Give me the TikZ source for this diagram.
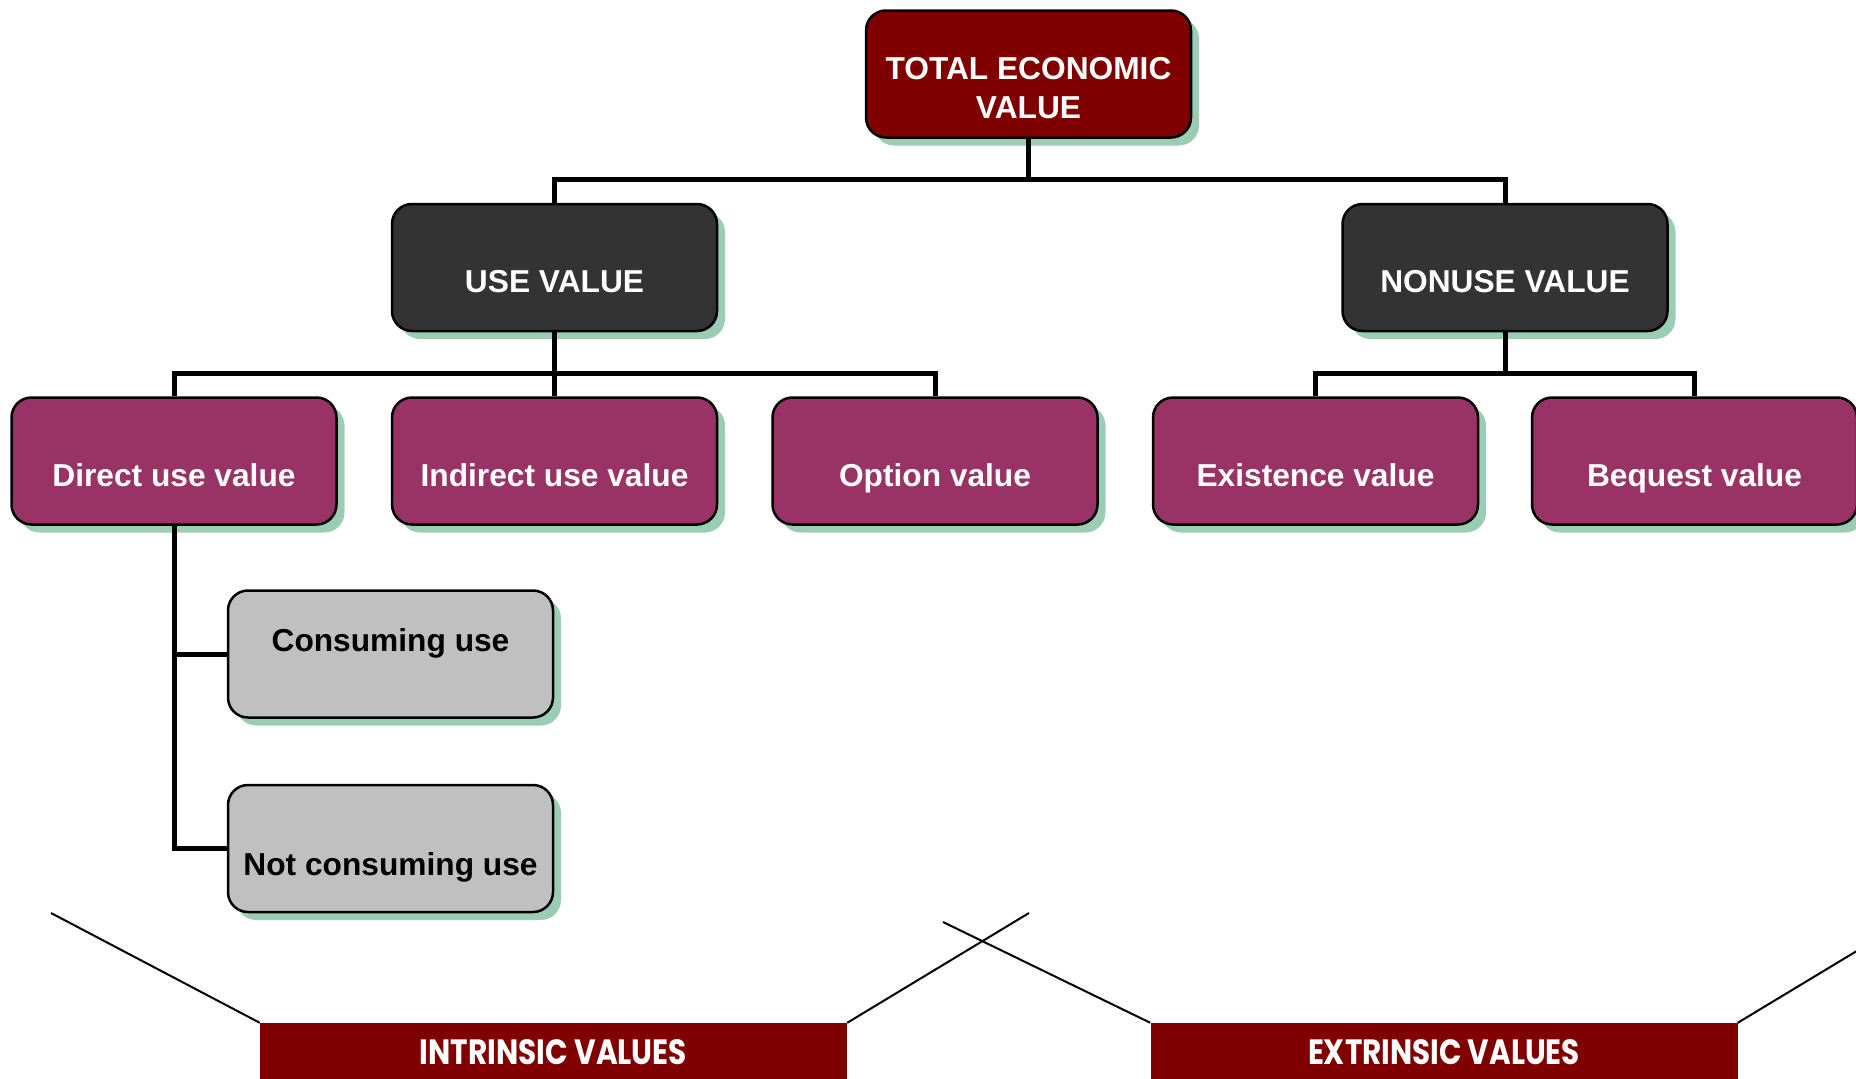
\documentclass[tikz,border=0pt]{standalone}
\usepackage{fontspec}
\setmainfont{Liberation Sans}
\newfontfamily\bannerfont{Poppins}
\usetikzlibrary{shadows}
\definecolor{tevred}{RGB}{128,0,0}
\definecolor{plum}{RGB}{153,51,102}
\definecolor{charcoal}{RGB}{51,51,51}
\definecolor{lightgrey}{RGB}{192,192,192}
\definecolor{shadowgreen}{RGB}{155,205,180}
\tikzset{
  valuebox/.style={draw=black, line width=2.5pt, rounded corners=20pt,
    minimum width=325pt, minimum height=127pt, inner sep=0pt,
    drop shadow={shadow xshift=8pt, shadow yshift=-8pt, fill=shadowgreen, opacity=1}},
  topbox/.style={valuebox, fill=tevred},
  mainbox/.style={valuebox, fill=charcoal},
  subbox/.style={valuebox, fill=plum},
  leafbox/.style={valuebox, fill=lightgrey},
  lbl/.style={font=\fontsize{31.7}{39}\selectfont\bfseries, text=white, anchor=base, inner sep=0pt},
  darklbl/.style={lbl, text=black},
  link/.style={line width=5pt, line join=miter},
  guide/.style={line width=2pt, black},
  banner/.style={fill=tevred, minimum width=587pt, minimum height=100pt, inner sep=0pt},
  bannerlbl/.style={font=\bannerfont\bfseries, text=white, anchor=base, inner sep=0pt}
}
\begin{document}
\begin{tikzpicture}[x=1pt,y=-1pt]
\useasboundingbox (0,0) rectangle (1856,1079);
\clip (0,0) rectangle (1856,1079);

% tree boxes
\node[topbox] (tev) at (1028.5,74) {};
\node[mainbox] (use) at (554.5,267.5) {};
\node[mainbox] (non) at (1505,267.5) {};
\node[subbox] (dir) at (174,461) {};
\node[subbox] (ind) at (554.5,461) {};
\node[subbox] (opt) at (935,461) {};
\node[subbox] (ex) at (1315.5,461) {};
\node[subbox] (beq) at (1694.5,461) {};
\node[leafbox] (cons) at (390.5,654) {};
\node[leafbox] (ncons) at (390.5,848.5) {};

% labels
\node[lbl] (tev1) at ([yshift=-5pt]tev.center) {TOTAL ECONOMIC};
\node[lbl] (tev2) at ([yshift=-44pt]tev.center) {VALUE};
\node[lbl] (usel) at ([yshift=-25pt]use.center) {USE VALUE};
\node[lbl] (nonl) at ([yshift=-25pt]non.center) {NONUSE VALUE};
\node[lbl] (dirl) at ([yshift=-25pt]dir.center) {Direct use value};
\node[lbl] (indl) at ([yshift=-25pt]ind.center) {Indirect use value};
\node[lbl] (optl) at ([yshift=-25pt]opt.center) {Option value};
\node[lbl] (exl) at ([yshift=-25pt]ex.center) {Existence value};
\node[lbl] (beql) at ([yshift=-25pt]beq.center) {Bequest value};
\node[darklbl] (consl) at ([yshift=3pt]cons.center) {Consuming use};
\node[darklbl] (nconsl) at ([yshift=-26.5pt]ncons.center) {Not consuming use};

% connectors
\coordinate (j1) at (1028.5,179);
\coordinate (j2) at (554.5,373);
\coordinate (j3) at (1505,373);
\draw[link] (tev.south) -- (j1);
\draw[link] (use.north) |- (j1) -| (non.north);
\draw[link] (use.south) -- (ind.north);
\draw[link] (dir.north) |- (j2) -| (opt.north);
\draw[link] (non.south) -- (j3);
\draw[link] (ex.north) |- (j3) -| (beq.north);
\draw[link] (dir.south) |- (ncons.west);
\draw[link] (cons.west) -- (cons.west -| dir.south);

% bottom banners
\node[banner] (intr) at (553.5,1073) {};
\node[banner] (extr) at (1444,1073) {};
\node[bannerlbl] (intrl) at (553.5,1064) {\resizebox{267pt}{25pt}{INTRINSIC VALUES}};
\node[bannerlbl] (extrl) at (1444,1064) {\resizebox{272pt}{25pt}{EXTRINSIC VALUES}};

% guide lines
\coordinate (g1) at (51,913);
\coordinate (g2) at (1029,913);
\coordinate (g3) at (943,922);
\coordinate (g4) at (1870,943);
\draw[guide] (g1) -- (intr.north west);
\draw[guide] (intr.north east) -- (g2);
\draw[guide] (g3) -- (extr.north west);
\draw[guide] (extr.north east) -- (g4);
\end{tikzpicture}
\end{document}
